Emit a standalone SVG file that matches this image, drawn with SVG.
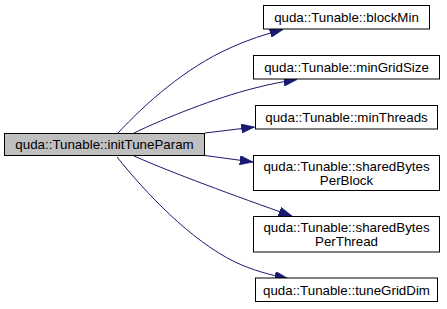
<svg xmlns="http://www.w3.org/2000/svg" width="447" height="309" viewBox="0 0 447 309">
  <style>
    .node rect { fill: #ffffff; stroke: #000000; stroke-width: 1; }
    #initTuneParam rect { fill: #bfbfbf; }
    .node text { font-family: "Liberation Sans", Arial, Helvetica, sans-serif; font-size: 13.33px; fill: #000000; text-anchor: middle; }
    .edge { fill: none; stroke: #191970; stroke-width: 1; marker-end: url(#arrow); }
  </style>
  <defs>
    <marker id="arrow" viewBox="0 0 10 7" refX="10" refY="3.5" markerWidth="13.3" markerHeight="9.3" markerUnits="userSpaceOnUse" orient="auto">
      <path d="M0,0 L10,3.5 L0,7 z" fill="#191970" stroke="#191970" stroke-width="0.5"/>
    </marker>
  </defs>
  <rect width="447" height="309" fill="#ffffff"/>

  <!-- call edges from initTuneParam -->
  <g id="edges">
    <path class="edge" d="M118,133 C145,104 185,68 230,48 C247,40 266,34 283,29.5"/>
    <path class="edge" d="M134,133 C165,118 215,98 255,88 C270,84 284,81.5 297,79.5"/>
    <path class="edge" d="M205,133 L254.5,127"/>
    <path class="edge" d="M205,155.5 L253,162"/>
    <path class="edge" d="M134,156 C170,172 235,196 292,216"/>
    <path class="edge" d="M117,157 C145,192 190,240 235,262 C252,270 270,275 288,278.5"/>
  </g>

  <g id="initTuneParam" class="node">
    <rect x="4.5" y="133.5" width="200" height="22"/>
    <text x="104.5" y="149">quda::Tunable::initTuneParam</text>
  </g>

  <g id="blockMin" class="node">
    <rect x="263.5" y="5.5" width="166" height="23.5"/>
    <text x="346.5" y="22">quda::Tunable::blockMin</text>
  </g>

  <g id="minGridSize" class="node">
    <rect x="253.5" y="55.5" width="186" height="23.5"/>
    <text x="346.5" y="72">quda::Tunable::minGridSize</text>
  </g>

  <g id="minThreads" class="node">
    <rect x="255.5" y="105.5" width="182" height="23.5"/>
    <text x="346.5" y="122">quda::Tunable::minThreads</text>
  </g>

  <g id="sharedBytesPerBlock" class="node">
    <rect x="253.5" y="155.5" width="186" height="35"/>
    <text x="346.5" y="171">quda::Tunable::sharedBytes</text>
    <text x="346.5" y="185">PerBlock</text>
  </g>

  <g id="sharedBytesPerThread" class="node">
    <rect x="253.5" y="216.5" width="186" height="35.5"/>
    <text x="346.5" y="232">quda::Tunable::sharedBytes</text>
    <text x="346.5" y="246">PerThread</text>
  </g>

  <g id="tuneGridDim" class="node">
    <rect x="255.5" y="278" width="182" height="23.5"/>
    <text x="346.5" y="294.5">quda::Tunable::tuneGridDim</text>
  </g>
</svg>
